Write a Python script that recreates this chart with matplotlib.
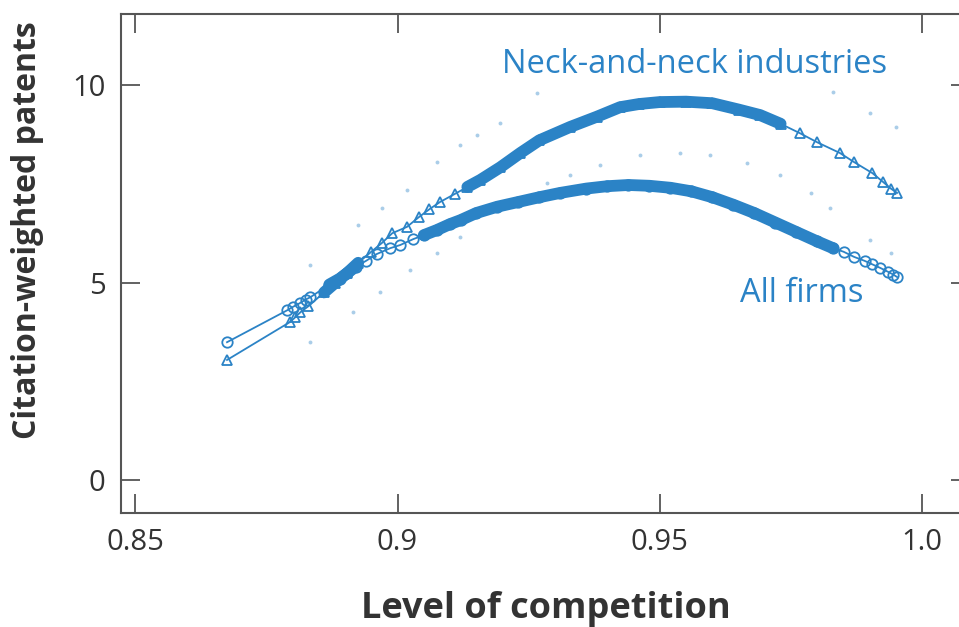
import matplotlib
matplotlib.use("Agg")
import matplotlib.pyplot as plt
import numpy as np

plt.rcParams['font.family'] = ['Open Sans', 'DejaVu Sans']

# data
all_x = [0.8675, 0.8790, 0.8800, 0.8814, 0.8825, 0.8834, 0.8870, 0.8890, 0.8904,
         0.8920, 0.8940, 0.8960, 0.8986, 0.9005, 0.9030, 0.9050, 0.9075, 0.9100,
         0.9120, 0.9150, 0.9190, 0.9230, 0.9270, 0.9310, 0.9360, 0.9400, 0.9440,
         0.9480, 0.9520, 0.9560, 0.9600, 0.9640, 0.9680, 0.9720, 0.9760, 0.9800,
         0.9830, 0.9850, 0.9870, 0.9890, 0.9905, 0.9920, 0.9935, 0.9945, 0.9952]
all_y = [3.49, 4.30, 4.38, 4.48, 4.57, 4.63, 4.95, 5.10, 5.24,
         5.40, 5.55, 5.72, 5.87, 5.95, 6.10, 6.20, 6.33, 6.48,
         6.58, 6.76, 6.92, 7.04, 7.16, 7.27, 7.38, 7.44, 7.47,
         7.45, 7.40, 7.31, 7.16, 6.97, 6.76, 6.52, 6.28, 6.04,
         5.87, 5.78, 5.65, 5.55, 5.46, 5.37, 5.27, 5.20, 5.14]

neck_x = [0.8675, 0.8795, 0.8805, 0.8815, 0.8830, 0.8860, 0.8880, 0.8904, 0.8925,
          0.8950, 0.8970, 0.8990, 0.9018, 0.9040, 0.9060, 0.9081, 0.9110, 0.9133,
          0.9158, 0.9196, 0.9234, 0.9270, 0.9329, 0.9380, 0.9424, 0.9460, 0.9500,
          0.9550, 0.9600, 0.9650, 0.9691, 0.9730, 0.9767, 0.9800, 0.9843, 0.9870,
          0.9905, 0.9925, 0.9940, 0.9952]
neck_y = [3.04, 4.00, 4.12, 4.25, 4.40, 4.75, 4.98, 5.24, 5.50,
          5.78, 6.00, 6.25, 6.41, 6.65, 6.85, 7.04, 7.25, 7.42,
          7.60, 7.92, 8.28, 8.60, 8.94, 9.20, 9.44, 9.52, 9.57,
          9.58, 9.54, 9.38, 9.24, 9.02, 8.78, 8.55, 8.28, 8.05,
          7.77, 7.55, 7.38, 7.27]

# faint confidence-band dots
band_x = [0.8834, 0.8925, 0.8971, 0.9018, 0.9076, 0.9119, 0.9152, 0.9196, 0.9266,
          0.9830, 0.9900, 0.9950,
          0.9285, 0.9329, 0.9386, 0.9462, 0.9539, 0.9596, 0.9666, 0.9729, 0.9787,
          0.8834, 0.8916, 0.8967, 0.9024, 0.9076, 0.9119,
          0.9825, 0.9900, 0.9940]
band_y = [5.44, 6.46, 6.89, 7.34, 8.05, 8.48, 8.73, 9.04, 9.80,
          9.82, 9.29, 8.94,
          7.52, 7.72, 7.97, 8.23, 8.28, 8.23, 8.03, 7.72, 7.27,
          3.49, 4.25, 4.76, 5.32, 5.75, 6.15,
          6.89, 6.08, 5.75]

blue = '#2b83c6'
grey = '#555555'

fig = plt.figure(figsize=(9.59, 6.27), dpi=100)
ax = fig.add_axes([0.1262, 0.1818, 0.8853, 0.7959])

ax.plot(band_x, band_y, linestyle='none', marker='o', ms=2.8, mew=0,
        color=blue, alpha=0.4)

ax_ = np.array(all_x)
ay_ = np.array(all_y)
nx_ = np.array(neck_x)
ny_ = np.array(neck_y)

# dense parts of each curve
for lo, hi in [(0.904, 0.984), (0.886, 0.8925)]:
    m = (ax_ >= lo) & (ax_ <= hi)
    ax.plot(ax_[m], ay_[m], color=blue, lw=8.5, solid_capstyle='round')
for lo, hi in [(0.912, 0.976), (0.886, 0.8925)]:
    m = (nx_ >= lo) & (nx_ <= hi)
    ax.plot(nx_[m], ny_[m], color=blue, lw=8.5, solid_capstyle='round')

ax.plot(all_x, all_y, color=blue, lw=1.3, marker='o', ms=7.5, mfc='none', mew=1.3)
ax.plot(neck_x, neck_y, color=blue, lw=1.3, marker='^', ms=7.5, mfc='none', mew=1.3)

ax.text(0.9199, 10.30, 'Neck-and-neck industries', color=blue, fontsize=23.5,
        va='baseline')
ax.text(0.9653, 4.51, 'All firms', color=blue, fontsize=23.5, va='baseline')

ax.set_xlim(0.8473, 1.0091)
ax.set_ylim(-0.835, 11.80)
ax.set_xticks([0.85, 0.9, 0.95, 1.0])
ax.set_xticklabels(['0.85', '0.9', '0.95', '1.0'])
ax.set_yticks([0, 5, 10])

for s in ax.spines.values():
    s.set_color(grey)
    s.set_linewidth(1.5)
ax.tick_params(direction='in', length=13.5, width=1.3, color=grey,
               labelsize=21, labelcolor='#333333', top=True, right=True)
ax.tick_params(axis='x', pad=11)
ax.tick_params(axis='y', pad=11)

ax.set_xlabel('Level of competition', fontsize=26, fontweight='bold',
              color='#333333', labelpad=24)
fig.text(0.029, 0.633, 'Citation-weighted patents', rotation=90, fontsize=23,
         fontweight='bold', color='#333333', ha='center', va='center')

fig.savefig('out.png', dpi=100)
